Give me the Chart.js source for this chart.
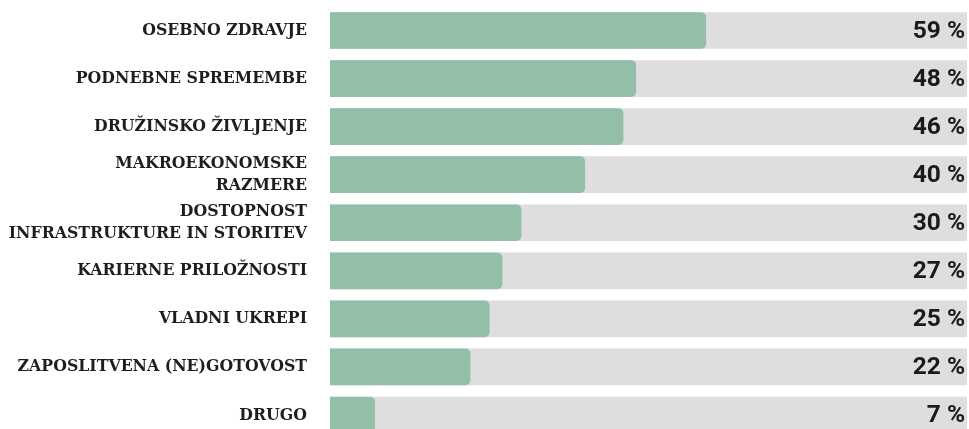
<!DOCTYPE html>
<html>
<head>
<meta charset="utf-8">
<script src="https://cdn.jsdelivr.net/npm/chart.js@4.4.1/dist/chart.umd.min.js"></script>
<style>
html,body{margin:0;padding:0;background:#fff;overflow:hidden;}
#wrap{width:969px;height:439px;position:relative;}
</style>
</head>
<body>
<div id="wrap"><canvas id="c"></canvas></div>
<script>
const categories = [
  "OSEBNO ZDRAVJE",
  "PODNEBNE SPREMEMBE",
  "DRUŽINSKO ŽIVLJENJE",
  ["MAKROEKONOMSKE", "RAZMERE"],
  ["DOSTOPNOST", "INFRASTRUKTURE IN STORITEV"],
  "KARIERNE PRILOŽNOSTI",
  "VLADNI UKREPI",
  "ZAPOSLITVENA (NE)GOTOVOST",
  "DRUGO"
];
const values = [59, 48, 46, 40, 30, 27, 25, 22, 7];
const fullScale = [100, 100, 100, 100, 100, 100, 100, 100, 100];

const valueLabels = {
  id: 'valueLabels',
  afterDatasetsDraw(chart) {
    const ctx = chart.ctx;
    const ys = chart.scales.y;
    const xs = chart.scales.x;
    ctx.save();
    ctx.font = 'bold 24.5px Roboto';
    ctx.fillStyle = '#1a1a1a';
    ctx.textAlign = 'right';
    ctx.textBaseline = 'middle';
    values.forEach((v, i) => {
      ctx.fillText(v + ' %', xs.getPixelForValue(100) - 2, ys.getPixelForValue(i) + 1);
    });
    ctx.restore();
  }
};

new Chart(document.getElementById('c'), {
  type: 'bar',
  data: {
    labels: categories,
    datasets: [
      {
        data: values,
        backgroundColor: '#93bfa8',
        borderRadius: {topLeft: 0, bottomLeft: 0, topRight: 5, bottomRight: 5},
        borderSkipped: false,
        barThickness: 36,
        grouped: false,
        order: 0
      },
      {
        data: fullScale,
        backgroundColor: '#dedede',
        barThickness: 36,
        grouped: false,
        order: 1
      }
    ]
  },
  options: {
    indexAxis: 'y',
    responsive: true,
    maintainAspectRatio: false,
    animation: false,
    layout: {padding: {top: 6.5, right: 2, bottom: 0, left: 0}},
    plugins: {legend: {display: false}, tooltip: {enabled: false}},
    scales: {
      x: {min: 0, max: 100, display: false},
      y: {
        grid: {display: false, drawTicks: false},
        border: {display: false},
        afterFit(scale) { scale.width = 330; scale.paddingTop = 0; scale.paddingBottom = 0; },
        ticks: {
          padding: 23,
          color: '#1e1e1e',
          font: {family: '"DejaVu Serif Condensed", "DejaVu Serif"', weight: 'bold', size: 17.5, lineHeight: 1.27}
        }
      }
    }
  },
  plugins: [valueLabels]
});
</script>
</body>
</html>
